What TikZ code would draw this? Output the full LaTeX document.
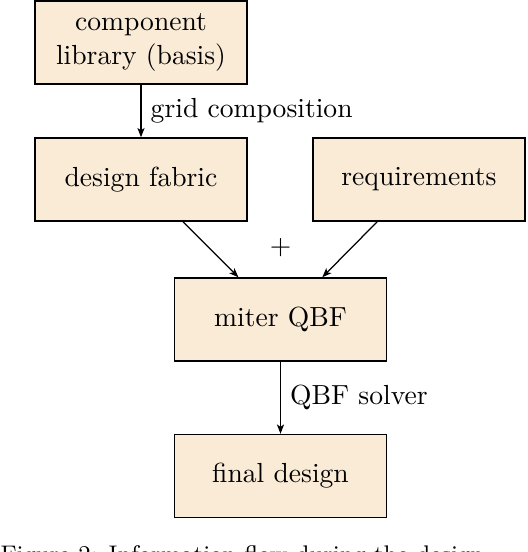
\documentclass[tikz,border=0pt]{standalone}
\usetikzlibrary{arrows.meta}
\definecolor{boxfill}{RGB}{250,235,215}
\begin{document}
\begin{tikzpicture}[x=0.3623pt,y=-0.3623pt,
  blockbox/.style={draw=black, line width=0.5pt, fill=boxfill, minimum width=76.8pt, minimum height=30.1pt, align=center, inner sep=0pt, font=\normalsize},
  flow/.style={-{Stealth[length=3.4pt,width=2.6pt,inset=0.9pt]}, line width=0.45pt},
  lbl/.style={font=\normalsize}]
\useasboundingbox (0,0) rectangle (528,552);
\clip (0,0) rectangle (528,552);
\node[blockbox] (lib) at (141,42.5) {component\\library (basis)};
\node[blockbox] (fabric) at (141,179.5) {design fabric};
\node[blockbox] (req) at (419,179.5) {requirements};
\node[blockbox] (miter) at (280.5,319.5) {miter QBF};
\node[blockbox] (final) at (280.5,476) {final design};
\draw[flow] (lib) -- node[lbl, right, inner sep=3.3pt] (gc) {grid composition} (fabric);
\draw[flow] (fabric) -- (miter);
\draw[flow] (req) -- (miter);
\node[lbl] (plus) at (280.5,248) {$+$};
\draw[flow] (miter) -- node[lbl, right, inner sep=3.3pt] (qs) {QBF solver} (final);
\node[anchor=base west, inner sep=0pt, font=\fontsize{8.7}{10}\selectfont] (cap) at (0,562) {Figure 2: Information flow during the design};
\end{tikzpicture}
\end{document}
